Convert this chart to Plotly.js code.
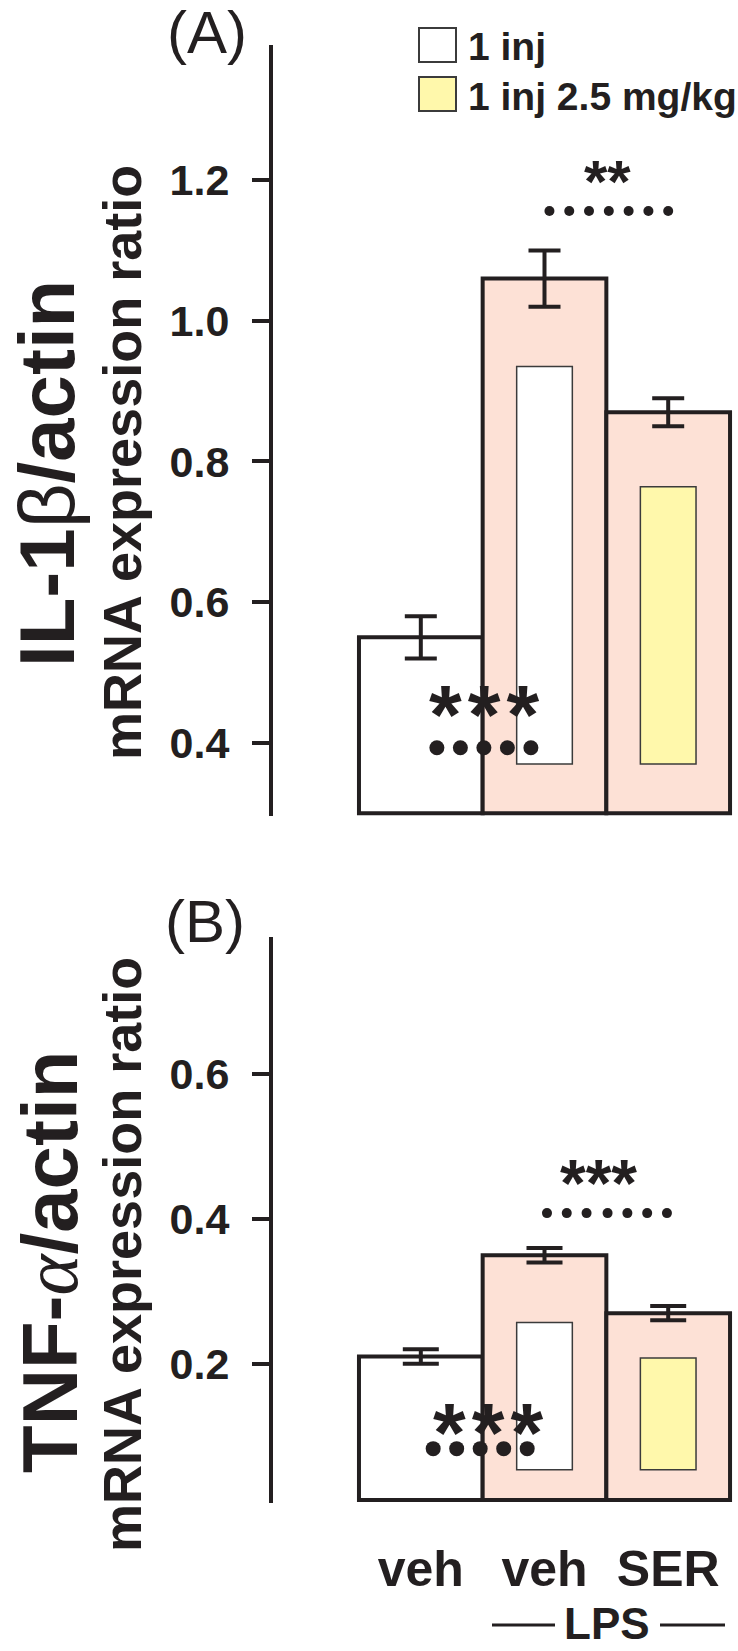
<!DOCTYPE html>
<html>
<head>
<meta charset="utf-8">
<script src="https://cdn.plot.ly/plotly-3.0.1.min.js"></script>
<style>
  html, body { margin: 0; padding: 0; background: #fff; }
  #chart { width: 738px; height: 1651px; }
</style>
</head>
<body>
<div id="chart"></div>
<script>
/* ─── IL-1β / TNF-α mRNA expression, two stacked panels ─── */

const groups = ['veh', 'veh', 'SER'];
const groupPos = [0, 1, 2];
const barColors = ['#ffffff', '#fde1d6', '#fde1d6'];

// Panel A: IL-1β/actin
const il1bMean = [0.55, 1.06, 0.87];
const il1bSem = [0.03, 0.04, 0.02];
// Panel B: TNF-α/actin
const tnfMean = [0.21, 0.35, 0.27];
const tnfSem = [0.01, 0.01, 0.01];

// inner boxes drawn inside the LPS bars (1 inj / 1 inj 2.5 mg/kg)
const innerPos = [1, 2];
const innerColors = ['#ffffff', '#fff8ab'];
const il1bInnerTop = [0.935, 0.764];
const il1bInnerBase = [0.37, 0.37];
const tnfInnerTop = [0.257, 0.208];
const tnfInnerBase = [0.054, 0.054];

// significance dot rows
const sigAUpperX = [1.04, 1.2, 1.36, 1.52, 1.68, 1.84, 2.0];
const sigAUpperY = 1.156;
const sigALowerX = [0.13, 0.32, 0.51, 0.70, 0.89];
const sigALowerY = 0.393;
const sigBUpperX = [1.02, 1.18, 1.34, 1.51, 1.67, 1.83, 1.99];
const sigBUpperY = 0.408;
const sigBLowerX = [0.10, 0.29, 0.48, 0.67, 0.86];
const sigBLowerY = 0.083;

const legendLabels = ['1 inj', '1 inj 2.5 mg/kg'];

const INK = '#231f20';
const SANS = 'Liberation Sans, Arial, sans-serif';

// pixel -> paper helpers (margins: l=273, r=4, t=b=0)
const W = 738, H = 1651, L = 273, R = 4;
const px = x => (x - L) / (W - L - R);
const py = y => 1 - y / H;

const baseA = 0.3;
const baseB = 0.012;

function outerBars(mean, sem, base, xa, ya, capW) {
    return {
        type: 'bar',
        x: groupPos,
        y: mean.map(v => v - base),
        base: base,
        width: 1,
        marker: { color: barColors, line: { color: INK, width: 4 } },
        error_y: { type: 'data', array: sem, visible: true, color: INK, thickness: 4, width: capW },
        xaxis: xa, yaxis: ya,
        cliponaxis: false,
        hoverinfo: 'skip',
        showlegend: false,
    };
}

function innerBars(top, base, xa, ya) {
    return {
        type: 'bar',
        x: innerPos,
        y: top.map((v, i) => v - base[i]),
        base: base,
        width: 0.45,
        marker: { color: innerColors, line: { color: '#3b3b3b', width: 1.5 } },
        xaxis: xa, yaxis: ya,
        cliponaxis: false,
        hoverinfo: 'skip',
        showlegend: false,
    };
}

function dotRow(xs, yv, size, xa, ya) {
    return {
        type: 'scatter',
        mode: 'markers',
        x: xs,
        y: xs.map(() => yv),
        marker: { color: INK, size: size },
        xaxis: xa, yaxis: ya,
        cliponaxis: false,
        hoverinfo: 'skip',
        showlegend: false,
    };
}

const traces = [
    outerBars(il1bMean, il1bSem, baseA, 'x', 'y', 16),
    innerBars(il1bInnerTop, il1bInnerBase, 'x', 'y'),
    dotRow(sigAUpperX, sigAUpperY, 10, 'x', 'y'),
    dotRow(sigALowerX, sigALowerY, 15, 'x', 'y'),
    outerBars(tnfMean, tnfSem, baseB, 'x2', 'y2', 18),
    innerBars(tnfInnerTop, tnfInnerBase, 'x2', 'y2'),
    dotRow(sigBUpperX, sigBUpperY, 10, 'x2', 'y2'),
    dotRow(sigBLowerX, sigBLowerY, 15, 'x2', 'y2'),
];

const yAxisBase = {
    showline: true, linecolor: INK, linewidth: 4,
    ticks: 'outside', ticklen: 17, tickwidth: 4, tickcolor: INK,
    showgrid: false, zeroline: false,
    tickformat: '.1f',
    ticklabelstandoff: 14,
    tickfont: { family: SANS, size: 43, color: INK, weight: 'bold' },
    fixedrange: true,
};
const xAxisBase = {
    range: [-1.195, 2.532],
    showline: false, showgrid: false, zeroline: false, ticks: '',
    fixedrange: true,
};

function ann(text, x, y, size, opts) {
    return Object.assign({
        text: text, xref: 'paper', yref: 'paper', x: px(x), y: py(y),
        xanchor: 'center', yanchor: 'middle', showarrow: false,
        font: { family: SANS, size: size, color: INK, weight: 'bold' },
    }, opts || {});
}

const plainFont = size => ({ family: SANS, size: size, color: INK, weight: 'normal' });
const spaced = (s, gap) => '<span style="letter-spacing:' + gap + 'px">' + s + '</span>';

const annotations = [
    ann('(A)', 207, 32, 60, { font: plainFont(60) }),
    ann('(B)', 205, 921, 60, { font: plainFont(60) }),
    ann('IL-1<span style="font-weight:normal">β</span>/actin', 47, 474, 78, { textangle: -90 }),
    ann('mRNA expression ratio', 122, 463, 54, { textangle: -90 }),
    ann('TNF-<span style="font-family:Liberation Serif;font-style:italic;font-weight:normal">α</span>/actin', 50, 1262, 78, { textangle: -90 }),
    ann('mRNA expression ratio', 122, 1255, 54, { textangle: -90 }),
    // significance stars
    ann('**', 607, 181, 60),
    ann(spaced('***', 6), 487, 715, 84),
    ann('***', 598, 1183, 66),
    ann(spaced('***', 6), 491, 1433, 84),
    // legend text
    ann(legendLabels[0], 466, 46, 39, { xanchor: 'left' }),
    ann(legendLabels[1], 466, 96, 39, { xanchor: 'left' }),
    // LPS bracket label
    ann('LPS', 607, 1623, 44),
];

const shapes = [
    { type: 'rect', xref: 'paper', yref: 'paper', x0: px(419), x1: px(456), y0: py(62), y1: py(28),
      fillcolor: innerColors[0], line: { color: '#3b3b3b', width: 2 } },
    { type: 'rect', xref: 'paper', yref: 'paper', x0: px(419), x1: px(456), y0: py(111), y1: py(77),
      fillcolor: innerColors[1], line: { color: '#3b3b3b', width: 2 } },
    { type: 'line', xref: 'paper', yref: 'paper', x0: px(492), x1: px(555), y0: py(1625), y1: py(1625),
      line: { color: INK, width: 3 } },
    { type: 'line', xref: 'paper', yref: 'paper', x0: px(660), x1: px(725), y0: py(1625), y1: py(1625),
      line: { color: INK, width: 3 } },
];

const layout = {
    width: W, height: H,
    margin: { l: L, r: R, t: 0, b: 0 },
    paper_bgcolor: '#ffffff', plot_bgcolor: 'rgba(0,0,0,0)',
    barmode: 'overlay',
    showlegend: false,
    xaxis: { ...xAxisBase, domain: [0, 1], anchor: 'y', showticklabels: false },
    yaxis: { ...yAxisBase, domain: [py(816), py(45)], range: [0.296, 1.392], anchor: 'x',
             tickvals: [0.4, 0.6, 0.8, 1.0, 1.2] },
    xaxis2: { ...xAxisBase, domain: [0, 1], anchor: 'y2',
              tickvals: groupPos, ticktext: groups, ticklabelstandoff: 32,
              tickfont: { family: SANS, size: 50, color: INK, weight: 'bold' } },
    yaxis2: { ...yAxisBase, domain: [py(1503), py(937)], range: [0.008, 0.789], anchor: 'x2',
              tickvals: [0.2, 0.4, 0.6] },
    annotations: annotations,
    shapes: shapes,
};

Plotly.newPlot('chart', traces, layout, { displayModeBar: false, staticPlot: true });
</script>
</body>
</html>
